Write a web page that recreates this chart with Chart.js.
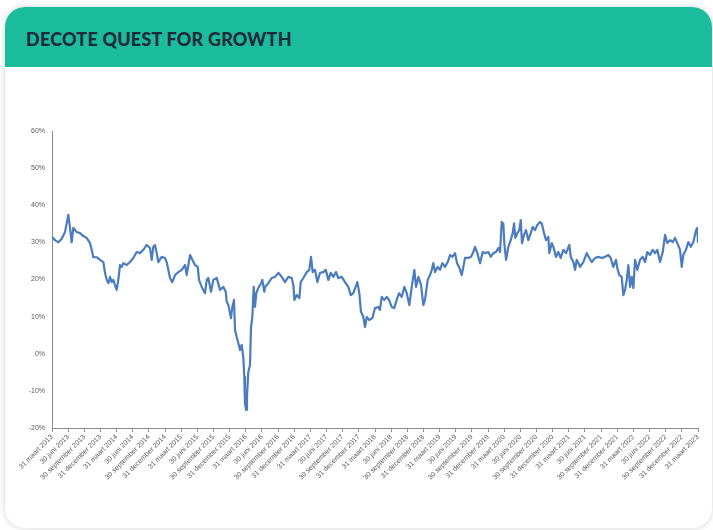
<!DOCTYPE html>
<html>
<head>
<meta charset="utf-8">
<script src="https://cdn.jsdelivr.net/npm/chart.js@4"></script>
<style>
  html, body { margin:0; padding:0; background:#ffffff; width:713px; height:530px; overflow:hidden; }
  #card { position:absolute; left:5px; top:7px; width:707px; height:521px; background:#fff; border-radius:20px; box-shadow:0 0 6px rgba(0,0,0,0.18); overflow:hidden; }
  #hdr { position:absolute; left:0; top:0; width:100%; height:60px; background:#1bbc9e; }
  #title { position:absolute; left:21px; top:21px; font-family:"Lato","Inter",sans-serif; font-weight:900; font-size:18px; color:#1f2b3a; letter-spacing:0.2px; white-space:nowrap; }
  #c { position:absolute; left:0; top:0; }
</style>
</head>
<body>
<div id="card"><div id="hdr"><div id="title">DECOTE QUEST FOR GROWTH</div></div></div>
<canvas id="c" width="713" height="530"></canvas>
<script>
// months since 31 maart 2013
const months = [0, 0.56, 1.18, 1.8, 2.42, 3.03, 3.34, 3.65, 3.96, 4.58, 5.2, 5.82, 6.44, 7.06, 7.37, 7.68, 8.3, 8.92, 9.54, 9.85, 10.16, 10.47, 10.77, 11.09, 11.39, 11.7, 12.02, 12.32, 12.63, 12.95, 13.25, 13.88, 14.49, 15.1, 15.73, 16.35, 16.96, 17.59, 18.2, 18.52, 18.82, 19.13, 19.45, 19.75,
 20.37, 20.99, 21.3, 21.6, 21.92, 22.35, 22.85, 23.47, 24.09, 24.71, 25.02, 25.33, 25.64, 26.07, 26.56, 27.07, 27.31, 27.81, 28.42, 28.74, 29.04, 29.54, 29.97, 30.6, 31.21, 31.83, 32.27, 32.46, 32.76, 33.25, 33.5, 33.81, 34, 34.31, 34.61, 34.93, 35.24, 35.54, 35.72, 35.85, 36.04, 36.22, 36.47, 36.78, 36.97, 37.21, 37.47, 37.71, 37.95, 38.32, 38.83, 39.07, 39.44,
 39.57, 40.18, 40.81, 41.43, 42.04, 42.67, 43.28, 43.9, 44.53, 44.84, 45.02, 45.46, 45.95, 46.2, 46.69, 47.32, 47.8, 48.11, 48.43, 48.86, 49.29, 49.79, 50.4, 50.85, 51.33, 51.78, 52.26, 52.76, 53.19, 53.82, 54.43, 55.04, 55.49, 55.97, 56.72, 57.09, 57.4, 57.83, 58.15, 58.46, 58.94,
 59.5, 60, 60.62, 60.93, 61.25, 61.73, 62.18, 62.6, 63.1, 63.58, 64.03, 64.46, 64.96, 65.45, 65.89, 66.38, 66.82, 67.31, 67.62, 68.05, 68.55, 68.98, 69.29, 69.79, 70.22, 70.54, 70.83, 71.15, 71.65, 72.08, 72.51, 73.01, 73.51, 73.94, 74.37, 74.87, 75.24, 75.61, 76.11, 76.41, 76.72, 77.34, 77.84, 78.26, 78.58,
 79.01, 79.51, 80.01, 80.44, 81.05, 81.5, 81.98, 82.48, 82.91, 83.23, 83.54, 83.84, 84.02, 84.34, 84.77, 85.21, 85.58, 85.83, 86.07, 86.44, 86.81, 87.07, 87.31, 87.68, 88.05, 88.48, 88.93, 89.3, 89.73, 90.15, 90.66, 90.97, 91.4, 91.77, 92.2, 92.38, 92.83, 93.13, 93.63, 94.05, 94.5, 94.98, 95.48, 96.1, 96.36, 96.84, 97.16, 97.47, 97.96,
 98.09, 98.7, 99.33, 99.81, 100.26, 100.87, 101.49, 102.12, 102.73, 103.35, 103.79, 104.27, 104.77, 105.02, 105.39, 105.83, 106.13, 106.45, 106.76, 107.06, 107.38, 107.69, 108, 108.3, 108.73, 109.23, 109.73, 110.16, 110.58, 111.09, 111.59, 112.02, 112.44, 112.95, 113.45, 113.88, 114.3, 114.81, 115.31, 115.73, 116.16, 116.66, 116.98, 117.27, 117.77, 118.2, 118.65, 119.14, 119.64, 119.89, 120];

// decote in %
const decote = [31.5, 30.6, 30, 31, 32.8, 37.4, 34, 30, 33.9, 32.8, 32.5, 31.7, 31.2, 29.8, 28, 26, 26, 25.3, 24.7, 21.8, 19.9, 19, 20.7, 19.3, 19.9, 18.5, 17.2, 19.9, 23.9, 23.4, 24.4, 23.9, 24.7, 25.8, 27.4, 27.1, 28, 29.3, 28.5, 25.3, 28.8, 29.3, 27.1, 24.7,
 26.1, 25.8, 24.7, 22.6, 20.4, 19.3, 21.2, 22, 22.6, 23.9, 21.2, 23.9, 26.6, 25.3, 23.9, 23.4, 19.9, 18, 16.3, 19.9, 20.4, 16.7, 19.9, 20.4, 17.2, 18, 16.7, 14, 13.1, 9.6, 12.6, 14.5, 6.4, 4.5, 2.9, 1, 2.4, -1.1, -6.2, -13.2, -15.1, -11.6, -4.9, -3, 7.2, 9.9, 18, 12.6, 16.3, 17.7, 19, 19.9, 16.7,
 18, 19, 20.4, 20.7, 21.8, 20.7, 19.3, 20.7, 20.4, 18.5, 14.5, 15.8, 15, 19.3, 20.4, 22, 22.6, 26.1, 22, 22.6, 19.3, 21.8, 22, 22.6, 19.9, 21.8, 20.7, 22, 20.4, 20.7, 19.3, 18, 15.8, 16.3, 19.3, 16.3, 11.3, 9.9, 7.2, 9.9, 9.1,
 9.6, 12.3, 12.6, 11.8, 15.3, 14.5, 15.3, 14.5, 12.6, 12.3, 14.5, 16.3, 15.3, 18, 16.3, 13.1, 18, 22.6, 18, 20.7, 18.5, 13.1, 14.5, 19.9, 21.2, 22.6, 24.4, 22, 23.4, 22.6, 24.4, 23.4, 24.7, 26.6, 26.1, 27.1, 24.4, 23.4, 21.2, 23.4, 25.8, 25.8, 26.1, 27.4, 28.8,
 27.1, 24.4, 27.4, 27.1, 27.4, 26.1, 27.1, 27.4, 28.5, 27.4, 35.5, 35.1, 29.8, 25.3, 28.8, 30.6, 32.5, 35.1, 31.2, 32.5, 33.3, 36, 29.8, 32, 33.3, 30.6, 32.5, 34.2, 33.3, 34.7, 35.5, 35.1, 32.5, 30.6, 31.5, 27.1, 29.8, 28.8, 26.1, 27.4, 25.8, 28, 27.1, 29.3, 26.1, 24.7, 22.6, 25.3, 23.9,
 23.4, 24.7, 27.1, 25.8, 24.7, 25.8, 26.1, 25.8, 26.1, 26.6, 25.8, 23.4, 25.3, 23, 21.2, 20.7, 15.8, 17.2, 19.9, 23.9, 18, 20.7, 17.7, 25.3, 22.6, 25.3, 26.1, 24.7, 27.4, 26.6, 28, 27.1, 28, 24.7, 27.4, 32, 29.8, 30.6, 30.1, 31.2, 29.8, 28, 23.4, 26.6, 28, 30.1, 28.8, 30.1, 33.3, 33.9, 29.8];

const tickMonths = [0,3,6,9,12,15,18,21,24,27,30,33,36,39,42,45,48,51,54,57,60,63,66,69,72,75,78,81,84,87,90,93,96,99,102,105,108,111,114,117,120];
const tickLabels = [
 "31 maart 2013","30 juni 2013","30 september 2013","31 december 2013",
 "31 maart 2014","30 juni 2014","30 september 2014","31 december 2014",
 "31 maart 2015","30 juni 2015","30 september 2015","31 december 2015",
 "31 maart 2016","30 juni 2016","30 september 2016","31 december 2016",
 "31 maart 2017","30 juni 2017","30 september 2017","31 december 2017",
 "31 maart 2018","30 juni 2018","30 september 2018","31 december 2018",
 "31 maart 2019","30 juni 2019","30 september 2019","31 december 2019",
 "31 maart 2020","30 juni 2020","30 september 2020","31 december 2020",
 "31 maart 2021","30 juni 2021","30 september 2021","31 december 2021",
 "31 maart 2022","30 juni 2022","30 september 2022","31 december 2022",
 "31 maart 2023"];
const yTicks = [-20,-10,0,10,20,30,40,50,60];

const pts = months.map((m, i) => ({ x: m, y: decote[i] }));
const tickFont = { family: "'Liberation Sans', Arial, sans-serif", size: 7 };

new Chart(document.getElementById('c'), {
  type: 'line',
  data: { datasets: [{ data: pts, borderColor: '#4a7cbf', borderWidth: 2.2, borderJoinStyle: 'round', pointRadius: 0, tension: 0, fill: false }] },
  options: {
    responsive: false, animation: false,
    layout: { padding: { left: 12, top: 131, right: 15, bottom: 22 } },
    plugins: { legend: { display: false }, tooltip: { enabled: false } },
    scales: {
      x: {
        type: 'linear', min: 0, max: 120,
        afterBuildTicks: a => { a.ticks = tickMonths.map(v => ({ value: v })); },
        afterFit: s => { s.height = 80; },
        ticks: { autoSkip: false, minRotation: 45, maxRotation: 45, font: tickFont, color: '#595959', padding: 1,
                 callback: (v, i) => tickLabels[i] },
        grid: { drawOnChartArea: false, drawTicks: true, tickLength: 4, color: '#8c8c8c' },
        border: { color: '#8c8c8c', width: 1 }
      },
      y: {
        min: -20, max: 60,
        afterBuildTicks: a => { a.ticks = yTicks.map(v => ({ value: v })); },
        afterFit: s => { s.width = 40; },
        ticks: { font: tickFont, color: '#595959', padding: 7, callback: v => v + '%' },
        grid: { drawOnChartArea: false, drawTicks: false, color: '#8c8c8c' },
        border: { color: '#8c8c8c', width: 1 }
      }
    }
  }
});
</script>
</body>
</html>
